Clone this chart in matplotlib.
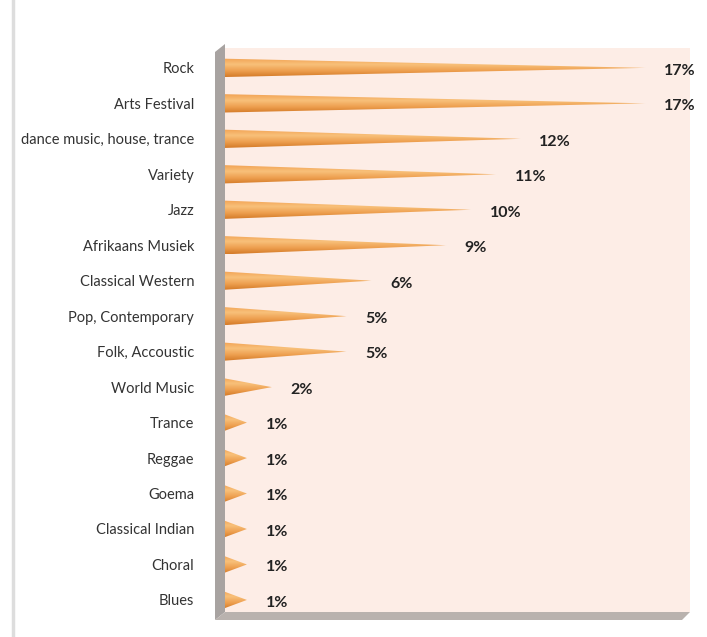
import numpy as np
import matplotlib.pyplot as plt
from matplotlib.patches import Polygon
from matplotlib.colors import LinearSegmentedColormap
from matplotlib.lines import Line2D

# Chart data
categories = [
    "Rock", "Arts Festival", "dance music, house, trance", "Variety", "Jazz",
    "Afrikaans Musiek", "Classical Western", "Pop, Contemporary", "Folk, Accoustic",
    "World Music", "Trance", "Reggae", "Goema", "Classical Indian", "Choral", "Blues",
]
shares = [17, 17, 12, 11, 10, 9, 6, 5, 5, 2, 1, 1, 1, 1, 1, 1]
share_labels = ["17%", "17%", "12%", "11%", "10%", "9%", "6%", "5%", "5%",
                "2%", "1%", "1%", "1%", "1%", "1%", "1%"]


def plot_cone_chart(output_path="out.png"):
    fig = plt.figure(figsize=(7.07, 6.37), dpi=100)
    fig.patch.set_facecolor("white")

    left, right, bottom, top = 222 / 707, 690 / 707, 1 - 612 / 637, 1 - 48 / 637
    ax = fig.add_axes([left, bottom, right - left, top - bottom])
    ax.set_facecolor("#fdede6")

    # Cone gradient: light top, darker bottom
    cmap = LinearSegmentedColormap.from_list(
        "cone", ["#f2a455", "#f8c07a", "#eea050", "#d47a28"])
    grad = np.linspace(0, 1, 64).reshape(-1, 1)

    half_h = 0.26
    for i, v in enumerate(shares):
        tri = Polygon([(0, i - half_h), (v, i), (0, i + half_h)],
                      closed=True, facecolor="none", edgecolor="none")
        ax.add_patch(tri)
        im = ax.imshow(grad, cmap=cmap, aspect="auto",
                       extent=[0, v, i + half_h, i - half_h],
                       interpolation="bilinear", zorder=2)
        im.set_clip_path(tri)
        ax.text(v + 0.75, i + 0.08, share_labels[i], ha="left", va="center",
                fontsize=11.5, fontweight="bold", color="#222222",
                family="Lato")

    ax.set_xlim(0, 18.8)
    ax.set_ylim(15.34, -0.56)
    ax.set_yticks(range(len(categories)))
    ax.set_yticklabels(categories, fontsize=10.5, color="#333333", family="Lato")
    ax.tick_params(axis="y", length=0, pad=20)
    ax.set_xticks([])
    for s in ax.spines.values():
        s.set_visible(False)

    # 3D-ish wall and floor (pixel coords, top-left origin)
    wall = Polygon([(215, 620), (215, 52), (225, 44), (225, 612)],
                   closed=True, facecolor="#a8a3a1", edgecolor="none",
                   transform=None)
    floor = Polygon([(215, 620), (225, 612), (690, 612), (682, 620)],
                    closed=True, facecolor="#b9b2ae", edgecolor="none",
                    transform=None)
    for p in (wall, floor):
        xy = p.get_xy()
        xy[:, 1] = 637 - xy[:, 1]
        p.set_xy(xy)
        fig.patches.append(p)

    # Light frame line at the left edge
    fig.lines.append(Line2D([13 / 707, 13 / 707], [0, 1],
                            transform=fig.transFigure, color="#dddddd", lw=2.5))

    fig.savefig(output_path, dpi=100)


if __name__ == "__main__":
    plot_cone_chart("out.png")
